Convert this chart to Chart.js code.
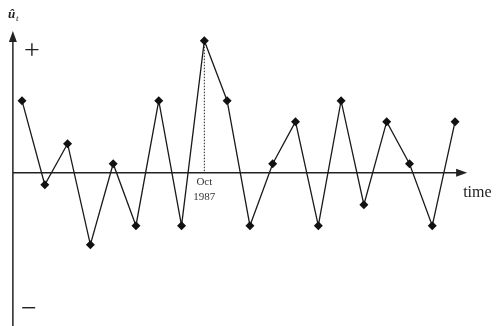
<!DOCTYPE html>
<html>
<head>
<meta charset="utf-8">
<script src="https://cdn.jsdelivr.net/npm/chart.js@4"></script>
<style>
  html, body { margin: 0; padding: 0; background: #fff; }
  #wrap { width: 497px; height: 326px; }
</style>
</head>
<body>
<div id="wrap"><canvas id="resid" width="497" height="326"></canvas></div>
<script>
// --- data ---
const periods = [0, 1, 2, 3, 4, 5, 6, 7, 8, 9, 10, 11, 12, 13, 14, 15, 16, 17, 18, 19];
const residuals = [7.2, -1.2, 2.9, -7.2, 0.9, -5.3, 7.2, -5.3, 13.2, 7.2, -5.3, 0.9, 5.1, -5.3, 7.2, -3.2, 5.1, 0.9, -5.3, 5.1];
const crashIndex = 8;
const crashLabel = ['Oct', '1987'];
const xAxisTitle = 'time';

const serif = '"Liberation Serif", "DejaVu Serif", serif';

// axes with arrows, drawn behind the line
const axesPlugin = {
    id: 'axesPlugin',
    beforeDatasetsDraw(chart) {
        const ctx = chart.ctx;
        const xs = chart.scales.x, ys = chart.scales.y;
        const ax = xs.getPixelForValue(-0.4);
        const ay = ys.getPixelForValue(0);
        const xEnd = xs.getPixelForValue(19.53);
        ctx.save();
        ctx.strokeStyle = '#222';
        ctx.fillStyle = '#222';
        ctx.lineWidth = 1.5;
        // y axis
        ctx.beginPath();
        ctx.moveTo(ax, 38);
        ctx.lineTo(ax, chart.height);
        ctx.stroke();
        ctx.beginPath();
        ctx.moveTo(ax, 31);
        ctx.lineTo(ax - 4, 42);
        ctx.lineTo(ax + 4, 42);
        ctx.closePath();
        ctx.fill();
        // x axis
        ctx.beginPath();
        ctx.moveTo(ax, ay);
        ctx.lineTo(xEnd - 6, ay);
        ctx.stroke();
        ctx.beginPath();
        ctx.moveTo(xEnd, ay);
        ctx.lineTo(xEnd - 11, ay - 4);
        ctx.lineTo(xEnd - 11, ay + 4);
        ctx.closePath();
        ctx.fill();

        // dotted drop line at the crash
        const cx = xs.getPixelForValue(periods[crashIndex]);
        ctx.lineWidth = 1;
        ctx.setLineDash([1.5, 1.5]);
        ctx.beginPath();
        ctx.moveTo(cx, ys.getPixelForValue(residuals[crashIndex]));
        ctx.lineTo(cx, ay);
        ctx.stroke();
        ctx.setLineDash([]);

        // texts
        ctx.fillStyle = '#333';
        ctx.textAlign = 'center';
        ctx.textBaseline = 'middle';
        ctx.font = '11px ' + serif;
        ctx.fillText(crashLabel[0], cx, ay + 9);
        ctx.fillText(crashLabel[1], cx, ay + 24);

        ctx.fillStyle = '#222';
        ctx.textAlign = 'left';
        ctx.font = '16px ' + serif;
        ctx.fillText(xAxisTitle, xEnd - 4, ay + 20);

        ctx.font = '28px ' + serif;
        ctx.textAlign = 'center';
        ctx.fillText('+', ax + 19, 52);
        ctx.fillText('\u2212', ax + 16, 310);

        ctx.font = 'italic bold 13px ' + serif;
        ctx.textAlign = 'left';
        ctx.fillText('\u00fb', ax - 5, 15);
        ctx.font = 'italic 9px ' + serif;
        ctx.fillText('t', ax + 3, 19);
        ctx.restore();
    }
};

new Chart(document.getElementById('resid'), {
    type: 'line',
    data: {
        datasets: [{
            data: periods.map((p, i) => ({ x: p, y: residuals[i] })),
            borderColor: '#1a1a1a',
            borderWidth: 1.3,
            pointStyle: 'rectRot',
            pointRadius: 4.5,
            pointBackgroundColor: '#111',
            pointBorderColor: '#111',
            pointBorderWidth: 0,
            tension: 0,
            fill: false,
            clip: false
        }]
    },
    options: {
        responsive: false,
        animation: false,
        layout: { padding: 0, autoPadding: false },
        plugins: {
            legend: { display: false },
            tooltip: { enabled: false }
        },
        scales: {
            x: { type: 'linear', min: -0.965, max: 20.84, display: false },
            y: { type: 'linear', min: -15.33, max: 17.27, display: false }
        }
    },
    plugins: [axesPlugin]
});
</script>
</body>
</html>
